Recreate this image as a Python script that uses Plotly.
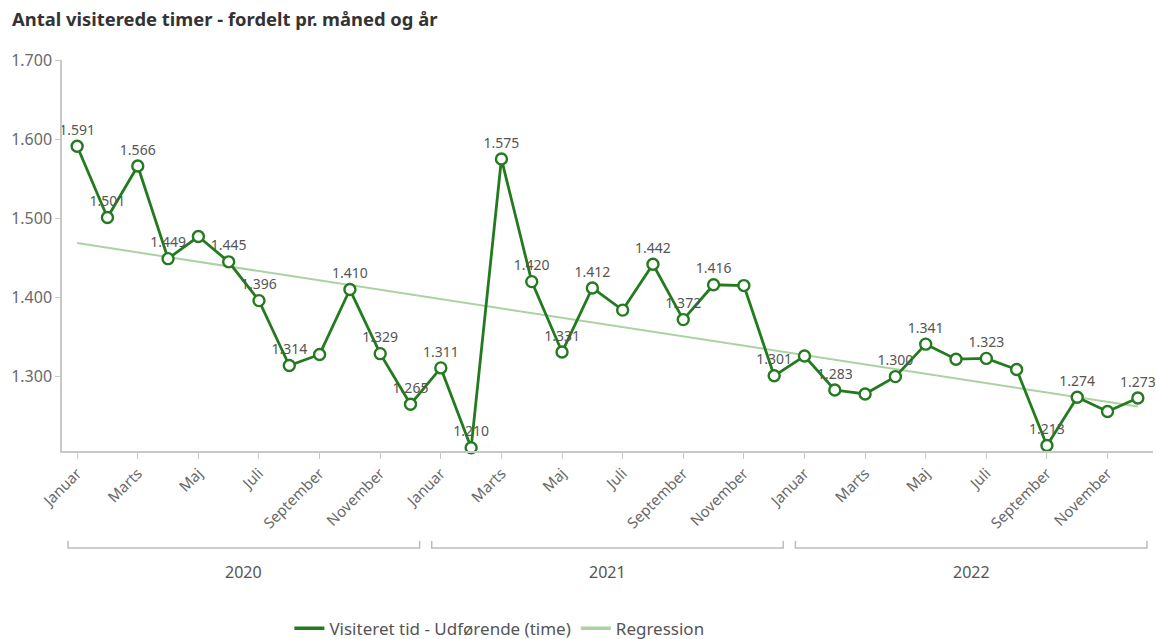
import numpy as np
import plotly.graph_objects as go

years = ["2020", "2021", "2022"]
month_labels = ["Januar", "Februar", "Marts", "April", "Maj", "Juni", "Juli",
                "August", "September", "Oktober", "November", "December"]
tick_months = ["Januar", "Marts", "Maj", "Juli", "September", "November"]

values = [
    1591, 1501, 1566, 1449, 1477, 1445, 1396, 1314, 1328, 1410, 1329, 1265,
    1311, 1210, 1575, 1420, 1331, 1412, 1384, 1442, 1372, 1416, 1415, 1301,
    1326, 1283, 1278, 1300, 1341, 1322, 1323, 1309, 1213, 1274, 1256, 1273,
]
label_shown = [
    1, 1, 1, 1, 0, 1, 1, 1, 0, 1, 1, 1,
    1, 1, 1, 1, 1, 1, 0, 1, 1, 1, 0, 1,
    0, 1, 0, 1, 1, 0, 1, 0, 1, 1, 0, 1,
]

main_name = "Visiteret tid - Udførende (time)"
reg_name = "Regression"
title_text = "Antal visiterede timer - fordelt pr. måned og år"

GREEN = "#237a1f"
LIGHT = "#a9d3a1"
GREY = "#6a6a6a"
AXIS = "#c8c8c8"
FONT = "Noto Sans"

n = len(values)
idx = np.arange(n)
hover = [f"{month_labels[i % 12]} {years[i // 12]}" for i in range(n)]
labels = [f"{v:,}".replace(",", ".") if s else "" for v, s in zip(values, label_shown)]

slope, intercept = np.polyfit(idx, values, 1)
reg = intercept + slope * idx

fig = go.Figure()
fig.add_trace(go.Scatter(
    x=idx, y=reg, mode="lines", line=dict(color=LIGHT, width=2),
    showlegend=False, hoverinfo="skip"))
fig.add_trace(go.Scatter(
    x=idx, y=values, mode="lines+markers+text", text=labels,
    textposition="top center", textfont=dict(color="#555555", size=14, family=FONT),
    line=dict(color=GREEN, width=2.8),
    marker=dict(size=11, color="white", line=dict(color=GREEN, width=2.4)),
    hovertext=hover, showlegend=False, cliponaxis=False))
# legend entries
fig.add_trace(go.Scatter(x=[None], y=[None], mode="lines", name=main_name,
                         line=dict(color=GREEN, width=3.5)))
fig.add_trace(go.Scatter(x=[None], y=[None], mode="lines", name=reg_name,
                         line=dict(color=LIGHT, width=3.5)))

tickvals = [y * 12 + m for y in range(len(years)) for m in range(0, 12, 2)]
ticktext = [tick_months[m // 2] for y in range(len(years)) for m in range(0, 12, 2)]

shapes = []
annotations = []
bracket_y = -0.248
for k, yr in enumerate(years):
    x0 = k * 12 - 0.5 + 0.2
    x1 = k * 12 + 11.5 - 0.2
    shapes.append(dict(type="path", xref="x", yref="paper",
                       path=f"M {x0},{bracket_y + 0.018} L {x0},{bracket_y} L {x1},{bracket_y} L {x1},{bracket_y + 0.018}",
                       line=dict(color="#b8bcc4", width=1.5)))
    annotations.append(dict(x=k * 12 + 5.5, y=-0.31, xref="x", yref="paper",
                            text=yr, showarrow=False, yanchor="middle",
                            font=dict(color="#555555", size=16, family=FONT)))

fig.update_layout(
    width=1156, height=639,
    margin=dict(l=62, r=3, t=60, b=188, autoexpand=False),
    paper_bgcolor="white", plot_bgcolor="white",
    separators=",.",
    font=dict(family=FONT, color=GREY),
    title=dict(text=f"<b>{title_text}</b>", x=0.0104, xanchor="left", y=0.969, yanchor="middle",
               font=dict(size=18.4, color="#333333", family=FONT)),
    xaxis=dict(range=[-0.5, n - 0.5], tickmode="array", tickvals=tickvals, ticktext=ticktext,
               tickangle=-45, ticks="outside", ticklen=6, tickcolor=AXIS,
               showline=True, linecolor=AXIS, linewidth=1.5, showgrid=False, zeroline=False,
               tickfont=dict(size=15, color=GREY), automargin=False),
    yaxis=dict(range=[1206, 1700], tickvals=[1300, 1400, 1500, 1600, 1700], tickformat=",",
               ticks="outside", ticklen=5, tickcolor=AXIS,
               showline=True, linecolor=AXIS, linewidth=1.5, showgrid=False, zeroline=False,
               tickfont=dict(size=16, color=GREY), automargin=False),
    legend=dict(orientation="h", x=0.432, xref="container", xanchor="center",
                y=0.016, yref="container", yanchor="middle",
                font=dict(size=17, color="#555555", family=FONT), itemwidth=30),
    shapes=shapes, annotations=annotations,
)

fig.write_html("out.html", post_script="document.body.style.margin='0';",
               config={"displayModeBar": False})
